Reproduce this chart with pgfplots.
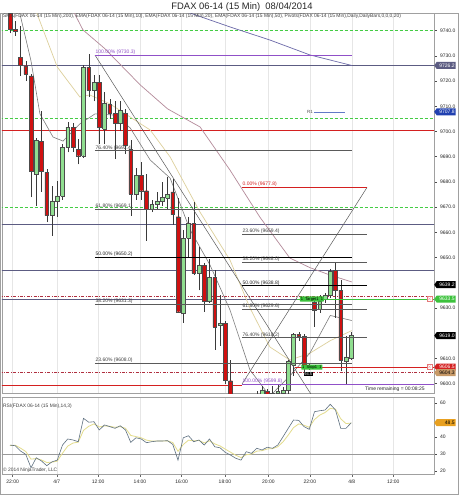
\documentclass[border=0pt]{standalone}
\usepackage{pgfplots}
\usepackage{pgfplotstable}
\pgfplotsset{compat=1.18}
\usetikzlibrary{shapes.symbols}
\usepackage{fontspec}
\setmainfont{Liberation Sans}

% colours
\definecolor{candleup}{HTML}{90DE90}
\definecolor{candledn}{HTML}{D01010}
\definecolor{wickcol}{HTML}{3A3A3A}
\definecolor{smacol}{HTML}{6B68A8}
\definecolor{ematen}{HTML}{7C7C7C}
\definecolor{ematwenty}{HTML}{DDD09C}
\definecolor{emafifty}{HTML}{B48A9A}
\definecolor{pivgreen}{HTML}{44CC44}
\definecolor{pivslate}{HTML}{5C5C82}
\definecolor{pivred}{HTML}{D42020}
\definecolor{ddred}{HTML}{B03040}
\definecolor{fibgray}{HTML}{5A5A5A}
\definecolor{fibviolet}{HTML}{9050C8}
\definecolor{rsiline}{HTML}{5E7080}
\definecolor{rsisig}{HTML}{E3DC8C}
\definecolor{gridc}{HTML}{E6E6E6}
\definecolor{framec}{HTML}{A0A0A0}
\definecolor{ordergreen}{HTML}{3CC23C}
\definecolor{r1blue}{HTML}{2040B0}
\definecolor{posbrown}{HTML}{C89A68}
\definecolor{rsiorange}{HTML}{E8A020}

% 15-minute bars: index, open, high, low, close
\pgfplotstableread{
i  o       h       l       c
0  9747.0  9749.0  9739.0  9740.5
1  9740.5  9744.0  9738.0  9739.8
2  9729.4  9742.0  9722.0  9726.2
3  9726.1  9728.0  9720.0  9722.8
4  9722.1  9723.0  9674.0  9684.4
5  9683.1  9697.5  9670.6  9696.6
6  9696.1  9708.3  9676.0  9684.2
7  9683.8  9685.0  9664.0  9666.6
8  9666.6  9678.5  9658.7  9672.5
9  9672.5  9680.5  9666.0  9674.5
10 9674.5  9695.0  9673.0  9693.7
11 9693.7  9703.7  9691.7  9701.7
12 9701.7  9703.5  9692.0  9693.7
13 9693.0  9697.0  9687.0  9690.4
14 9690.4  9726.5  9689.5  9725.5
15 9725.5  9730.8  9713.6  9716.2
16 9716.5  9722.5  9712.0  9719.5
17 9719.5  9722.4  9695.0  9701.7
18 9701.0  9715.5  9695.0  9711.2
19 9710.9  9713.0  9705.0  9707.2
20 9707.2  9712.0  9689.0  9703.3
21 9703.3  9712.0  9700.0  9708.3
22 9707.2  9709.0  9691.0  9694.4
23 9693.0  9696.6  9666.5  9675.2
24 9675.2  9685.5  9673.0  9682.5
25 9682.7  9688.0  9673.0  9676.5
26 9676.5  9683.0  9656.7  9669.2
27 9669.2  9673.0  9668.0  9671.0
28 9671.0  9676.0  9669.0  9672.5
29 9672.5  9680.0  9670.5  9674.0
30 9673.5  9682.0  9669.0  9675.0
31 9676.0  9681.0  9663.0  9667.0
32 9666.2  9673.5  9628.0  9628.5
33 9627.8  9661.0  9624.1  9657.6
34 9657.6  9666.0  9650.0  9663.6
35 9663.6  9672.0  9643.0  9643.7
36 9643.7  9654.3  9637.0  9647.0
37 9647.0  9648.0  9628.5  9632.5
38 9632.5  9649.4  9632.0  9642.0
39 9642.0  9645.0  9613.3  9622.5
40 9623.2  9635.0  9615.0  9623.9
41 9623.9  9625.0  9600.0  9601.4
42 9601.1  9609.3  9588.0  9592.0
43 9592.0  9595.0  9585.0  9588.0
44 9588.0  9591.0  9580.0  9584.0
45 9584.0  9590.0  9581.0  9587.0
46 9587.0  9593.0  9585.0  9590.0
47 9590.0  9597.0  9588.0  9594.0
48 9594.0  9599.0  9592.0  9597.5
49 9597.0  9598.0  9590.0  9594.0
50 9594.0  9599.0  9591.0  9596.0
51 9596.0  9599.5  9593.0  9597.0
52 9596.2  9598.5  9594.0  9597.4
53 9597.4  9609.5  9596.0  9608.7
54 9607.3  9620.0  9603.0  9619.6
55 9619.6  9620.5  9617.0  9618.6
56 9618.8  9619.5  9604.0  9606.7
57 9606.7  9608.0  9605.5  9606.4
58 9632.2  9634.0  9622.5  9629.2
59 9629.4  9635.0  9628.0  9632.5
60 9633.5  9636.0  9632.0  9635.0
61 9635.1  9645.5  9634.0  9644.4
62 9645.0  9648.3  9626.0  9637.1
63 9637.1  9641.0  9605.0  9609.3
64 9609.0  9619.0  9600.0  9610.6
65 9610.0  9620.5  9609.5  9619.0
}\ohlc
\pgfplotstablegetrowsof{\ohlc}
\pgfmathtruncatemacro\lastrow{\pgfplotsretval-1}

% moving averages
\pgfplotstableread{
i    v
30   9749.0
34.3 9747.0
41.9 9741.5
49.5 9736.3
57.1 9730.4
65.1 9726.2
}\smatwohundred
\pgfplotstableread{
i    v
12   9748.0
13.9 9740.3
18   9733.0
24.8 9718.5
30   9709.0
36.2 9701.8
41.9 9684.7
47.6 9666.0
53.3 9649.8
57.1 9646.0
61   9643.0
65.1 9640.3
}\emafifty
\pgfplotstableread{
i    v
4    9750.0
5.1  9747.0
9    9725.6
13.3 9713.7
15.2 9714.5
19   9711.0
26.7 9700.6
30.5 9689.9
36.2 9668.0
41.9 9649.0
45.7 9630.0
49.5 9614.5
53.3 9609.3
57.1 9612.0
61   9617.0
65.1 9621.0
}\ematwentytab
\pgfplotstableread{
i    v
1.9  9746.6
4    9728.0
5.7  9707.0
8.2  9697.8
10.1 9696.2
13.3 9703.0
16.2 9707.0
20   9706.5
22.9 9701.4
26.7 9688.7
30.5 9681.5
34.3 9661.0
38.1 9647.0
41.9 9629.2
45.7 9605.4
49.5 9595.0
53.3 9603.0
57.1 9612.0
61   9627.0
65.1 9625.0
}\ematentab

% RSI(14) and its signal
\pgfplotstableread{
i  rsi  sig
0  35.3 35.0
1  34.9 35.2
2  31.8 33.5
3  29.8 31.5
4  21.9 27.0
5  27.8 27.3
6  25.9 26.5
7  23.1 25.0
8  25.4 25.2
9  26.4 25.8
10 35.3 30.5
11 38.9 34.7
12 38.3 36.5
13 37.3 37.0
14 51.1 44.0
15 48.8 46.4
16 49.1 47.8
17 44.2 46.0
18 47.2 46.6
19 46.2 46.4
20 45.2 45.8
21 46.7 46.2
22 44.2 45.2
23 36.9 41.0
24 39.6 40.3
25 38.9 39.6
26 36.7 38.2
27 37.3 37.7
28 37.7 37.7
29 37.7 37.7
30 37.9 37.8
31 35.7 36.8
32 26.4 31.6
33 39.6 35.6
34 40.8 38.2
35 37.3 37.8
36 38.3 38.0
37 35.3 36.6
38 38.9 37.8
39 34.3 36.0
40 33.7 34.8
41 31.0 32.9
42 29.4 31.1
43 27.5 29.3
44 26.4 27.9
45 31.4 29.6
46 30.4 30.0
47 33.4 31.7
48 32.4 32.0
49 34.0 33.0
50 33.4 33.2
51 35.3 34.3
52 40.2 37.2
53 45.2 41.2
54 50.1 45.6
55 49.9 47.8
56 46.2 47.0
57 44.6 45.8
58 55.0 50.4
59 55.6 53.0
60 56.0 54.5
61 59.4 57.0
62 56.0 56.5
63 45.2 50.8
64 45.2 48.0
65 48.5 48.3
}\rsitab

\tikzset{
  tag/.style={signal, signal to=west, signal pointer angle=110, fill=#1,
    inner xsep=1pt, inner ysep=0.6pt, minimum height=7pt, text width=17pt,
    align=right, anchor=west, font=\fontsize{5}{5}\selectfont},
  fiblabel/.style={anchor=south west, inner sep=0.4pt, font=\fontsize{5}{5}\selectfont},
}
\pgfplotsset{
  hline/.style={forget plot, line width=0.6pt},
}

\begin{document}
\begin{tikzpicture}
\useasboundingbox (0,0) rectangle (460pt,-496pt);
\fill[white] (0,0) rectangle (460pt,-496pt);
\draw[framec, line width=0.6pt] (0.8pt,-13pt) rectangle (458.5pt,-494.5pt);
\node[font=\fontsize{9.4}{11}\selectfont, text=black!85] at (242pt,-7pt)
  {FDAX 06-14 (15 Min)\ \ 08/04/2014};

% ---------------- price panel ----------------
\begin{axis}[
  at={(2pt,-13pt)}, anchor=north west,
  scale only axis, width=432pt, height=380pt,
  xmin=-1.524, xmax=80.76, ymin=9596.23, ymax=9747.02,
  clip mode=individual,
  axis line style={draw=framec, line width=0.5pt},
  xtick={0.51,8.9,16.8,24.76,32.7,40.95,49.2,57.1,65.1,73.0},
  xticklabels={}, xmajorgrids, major x grid style={gridc, line width=0.4pt},
  xtick style={draw=none},
  ytick={9600,9610,9630,9650,9660,9670,9680,9690,9700,9710,9720,9730,9740},
  ytick pos=right, yticklabel pos=right,
  tick align=outside, major tick length=2.5pt,
  ytick style={draw=black!70, line width=0.4pt},
  yticklabel style={font=\fontsize{5}{6}\selectfont, text=black!85,
    /pgf/number format/fixed, /pgf/number format/fixed zerofill,
    /pgf/number format/precision=1, /pgf/number format/1000 sep={},
    /pgf/number format/assume math mode=true},
]
% daily pivots and levels
\addplot[hline, pivgreen, dashed, dash pattern=on 3pt off 2pt] coordinates {(-2,9740.3) (82,9740.3)};
\addplot[hline, pivslate] coordinates {(-2,9726.2) (82,9726.2)};
\addplot[hline, pivgreen, dashed, dash pattern=on 3pt off 2pt] coordinates {(-2,9705.2) (82,9705.2)};
\addplot[hline, pivred] coordinates {(-2,9700.4) (82,9700.4)};
\addplot[hline, pivgreen, dashed, dash pattern=on 3pt off 2pt] coordinates {(-2,9669.8) (82,9669.8)};
\addplot[hline, pivslate] coordinates {(-2,9663.3) (82,9663.3)};
\addplot[hline, pivslate] coordinates {(-2,9645.0) (82,9645.0)};
\addplot[hline, ddred, dash pattern=on 3pt off 1.5pt on 0.8pt off 1.5pt] coordinates {(-2,9634.8) (82,9634.8)};
\addplot[hline, pivslate] coordinates {(-2,9633.3) (82,9633.3)};
\addplot[hline, ddred, dash pattern=on 3pt off 1.5pt on 0.8pt off 1.5pt] coordinates {(-2,9604.3) (82,9604.3)};
\addplot[hline, pivred] coordinates {(-2,9599.4) (44.19,9599.4)};
\addplot[hline, r1blue!70, line width=0.5pt] coordinates {(57.9,9707.8) (63.9,9707.8)};
\node[anchor=east, font=\fontsize{4.5}{5}\selectfont, text=black!70, inner sep=1pt] at (axis cs:57.9,9707.8) {R1};

% moving averages
\addplot[forget plot, smacol, line width=0.7pt] table[x=i, y=v] {\smatwohundred};
\addplot[forget plot, emafifty, line width=0.7pt] table[x=i, y=v] {\emafifty};
\addplot[forget plot, ematwenty, line width=0.7pt] table[x=i, y=v] {\ematwentytab};
\addplot[forget plot, ematen, line width=0.6pt] table[x=i, y=v] {\ematentab};

% candles
\pgfplotsforeachungrouped \rowidx in {0,...,\lastrow}{%
  \pgfplotstablegetelem{\rowidx}{i}\of\ohlc \let\cdX\pgfplotsretval
  \pgfplotstablegetelem{\rowidx}{o}\of\ohlc \let\cdO\pgfplotsretval
  \pgfplotstablegetelem{\rowidx}{h}\of\ohlc \let\cdH\pgfplotsretval
  \pgfplotstablegetelem{\rowidx}{l}\of\ohlc \let\cdL\pgfplotsretval
  \pgfplotstablegetelem{\rowidx}{c}\of\ohlc \let\cdC\pgfplotsretval
  \pgfmathsetmacro\cdXl{\cdX-0.36}%
  \pgfmathsetmacro\cdXr{\cdX+0.36}%
  \pgfmathtruncatemacro\cdUp{\cdC>=\cdO}%
  \ifnum\cdUp=1 \def\cdFill{candleup}\else\def\cdFill{candledn}\fi
  \edef\drawcandle{%
    \noexpand\addplot[forget plot, wickcol, line width=0.5pt]
      coordinates {(\cdX,\cdL) (\cdX,\cdH)};
    \noexpand\addplot[forget plot, draw=black!70, fill=\cdFill, line width=0.35pt]
      coordinates {(\cdXl,\cdO) (\cdXr,\cdO) (\cdXr,\cdC) (\cdXl,\cdC) (\cdXl,\cdO)};
  }%
  \drawcandle
}

% Fibonacci retracement drawn from 9730.3 down to 9570.2
\addplot[forget plot, fibgray, line width=0.5pt] coordinates {(16.19,9730.3) (65.14,9570.2)};
\addplot[forget plot, fibviolet, line width=0.7pt] coordinates {(16.19,9730.3) (65.14,9730.3)};
\addplot[forget plot, fibgray, line width=0.6pt] coordinates {(16.19,9692.4) (65.14,9692.4)};
\addplot[forget plot, fibgray, line width=0.6pt] coordinates {(16.19,9669.1) (65.14,9669.1)};
\addplot[forget plot, black, line width=0.7pt] coordinates {(16.19,9650.2) (65.14,9650.2)};
\addplot[forget plot, fibgray, line width=0.6pt] coordinates {(16.19,9631.3) (65.14,9631.3)};
\addplot[forget plot, fibgray, line width=0.6pt] coordinates {(16.19,9608.0) (65.14,9608.0)};
\node[fiblabel, text=fibviolet] at (axis cs:16.19,9730.3) {100.00\% (9730.3)};
\node[fiblabel, text=black!75] at (axis cs:16.19,9692.4) {76.40\% (9692.4)};
\node[fiblabel, text=black!75] at (axis cs:16.19,9669.1) {61.80\% (9669.1)};
\node[fiblabel, text=black!85] at (axis cs:16.19,9650.2) {50.00\% (9650.2)};
\node[fiblabel, text=black!75] at (axis cs:16.19,9631.3) {38.20\% (9631.3)};
\node[fiblabel, text=black!75] at (axis cs:16.19,9608.0) {23.60\% (9608.0)};

% Fibonacci retracement drawn from 9599.8 up to 9677.8
\addplot[forget plot, fibgray, line width=0.5pt] coordinates {(44.19,9599.8) (68.0,9677.8)};
\addplot[forget plot, pivred, line width=0.7pt] coordinates {(44.19,9677.8) (68.0,9677.8)};
\addplot[forget plot, fibgray, line width=0.6pt] coordinates {(44.19,9659.4) (68.0,9659.4)};
\addplot[forget plot, fibgray, line width=0.6pt] coordinates {(44.19,9648.0) (68.0,9648.0)};
\addplot[forget plot, black, line width=0.8pt] coordinates {(44.19,9638.8) (68.0,9638.8)};
\addplot[forget plot, fibgray, line width=0.6pt] coordinates {(44.19,9629.6) (68.0,9629.6)};
\addplot[forget plot, fibgray, line width=0.6pt] coordinates {(44.19,9618.2) (68.0,9618.2)};
\addplot[forget plot, fibviolet, line width=0.7pt] coordinates {(44.19,9599.8) (80.76,9599.8)};
\node[fiblabel, text=pivred] at (axis cs:44.19,9677.8) {0.00\% (9677.8)};
\node[fiblabel, text=black!75] at (axis cs:44.19,9659.4) {23.60\% (9659.4)};
\node[fiblabel, text=black!75] at (axis cs:44.19,9648.0) {38.20\% (9648.0)};
\node[fiblabel, text=black!85] at (axis cs:44.19,9638.8) {50.00\% (9638.8)};
\node[fiblabel, text=black!75] at (axis cs:44.19,9629.6) {61.80\% (9629.6)};
\node[fiblabel, text=black!75] at (axis cs:44.19,9618.2) {76.40\% (9618.2)};
\node[fiblabel, text=fibviolet] at (axis cs:44.19,9599.8) {100.00\% (9599.8)};

% working orders
\addplot[forget plot, ordergreen, line width=0.8pt] coordinates {(54.7,9633.5) (80.76,9633.5)};
\addplot[forget plot, pivred, line width=0.8pt] coordinates {(54.3,9606.5) (80.76,9606.5)};
\node[fill=ordergreen, text=black, font=\fontsize{4}{4}\selectfont, inner sep=0.8pt, rounded corners=0.5pt]
  at (axis cs:57.5,9633.5) {1 \ Target1 \ 1};
\node[fill=ordergreen, text=black, font=\fontsize{4}{4}\selectfont, inner sep=0.8pt, rounded corners=0.5pt]
  at (axis cs:57.5,9606.5) {1 \ Stop1 \ 1};
\node[fill=black, text=white, font=\fontsize{4}{4}\selectfont, inner sep=0.6pt]
  at (axis cs:56.8,9603.6) {94.5};
\node[draw=pivred!60, fill=white, text=pivred!70, font=\fontsize{5}{5}\selectfont, inner sep=0pt,
  minimum size=5pt] at (axis cs:79.9,9633.5) {$\times$};
\node[draw=pivred!60, fill=white, text=pivred!70, font=\fontsize{5}{5}\selectfont, inner sep=0pt,
  minimum size=5pt] at (axis cs:79.9,9606.5) {$\times$};

% texts inside the panel
\node[anchor=north west, inner sep=1pt, font=\fontsize{4.9}{5}\selectfont, text=black!75]
  at (rel axis cs:0,1) {SMA(FDAX 06-14 (15 Min),200), EMA(FDAX 06-14 (15 Min),10), EMA(FDAX 06-14 (15 Min),20), EMA(FDAX 06-14 (15 Min),50), Pivots(FDAX 06-14 (15 Min),Daily,DailyBars,0,0,0,20)};
\node[anchor=east, inner sep=1pt, font=\fontsize{5}{5}\selectfont, text=black!85]
  at (axis cs:79.2,9597.6) {Time remaining = 00:08:25};

% price tags on the axis
\node[tag=pivslate, text=white] at (axis cs:80.76,9726.2) {9726.2};
\node[tag=r1blue, text=white] at (axis cs:80.76,9707.8) {9707.8};
\node[tag=black, text=white] at (axis cs:80.76,9639.2) {9639.2};
\node[tag=ordergreen, text=white] at (axis cs:80.76,9633.5) {9633.5};
\node[tag=black, text=white] at (axis cs:80.76,9619.0) {9619.0};
\node[tag=pivred, text=white] at (axis cs:80.76,9606.5) {9606.5};
\node[tag=posbrown, text=black] at (axis cs:80.76,9604.3) {9604.3};
\end{axis}

% ---------------- RSI panel ----------------
\begin{axis}[
  at={(2pt,-397pt)}, anchor=north west,
  scale only axis, width=432pt, height=77pt,
  xmin=-1.524, xmax=80.76, ymin=18.2, ymax=63.7,
  clip mode=individual,
  axis line style={draw=framec, line width=0.5pt},
  xtick={0.51,8.9,16.8,24.76,32.7,40.95,49.2,57.1,65.1,73.0},
  xticklabels={22:00,4/7,12:00,14:00,16:00,18:00,20:00,22:00,4/8,12:00},
  xmajorgrids, major x grid style={gridc, line width=0.4pt},
  xtick pos=bottom, tick align=outside, major tick length=2.5pt,
  xtick style={draw=black!60, line width=0.4pt},
  xticklabel style={font=\fontsize{5}{6}\selectfont, text=black!85},
  ytick={20,30,40,60}, ytick pos=right, yticklabel pos=right,
  ytick style={draw=black!70, line width=0.4pt},
  yticklabel style={font=\fontsize{5}{6}\selectfont, text=black!85,
    /pgf/number format/assume math mode=true},
]
\addplot[forget plot, gray!80, line width=0.7pt] coordinates {(-2,30) (82,30)};
\addplot[forget plot, rsisig, line width=0.8pt] table[x=i, y=sig] {\rsitab};
\addplot[forget plot, rsiline, line width=0.6pt] table[x=i, y=rsi] {\rsitab};
\node[anchor=north west, inner sep=1pt, font=\fontsize{4.9}{5}\selectfont, text=black!75]
  at (rel axis cs:0,0.93) {RSI(FDAX 06-14 (15 Min),14,3)};
\node[anchor=south west, inner sep=1pt, font=\fontsize{4.9}{5}\selectfont, text=black!75]
  at (rel axis cs:0,0.0) {\textcopyright\ 2014 NinjaTrader, LLC};
\node[tag=rsiorange, text=black] at (axis cs:80.76,48.5) {48.5};
\end{axis}
\end{tikzpicture}
\end{document}
